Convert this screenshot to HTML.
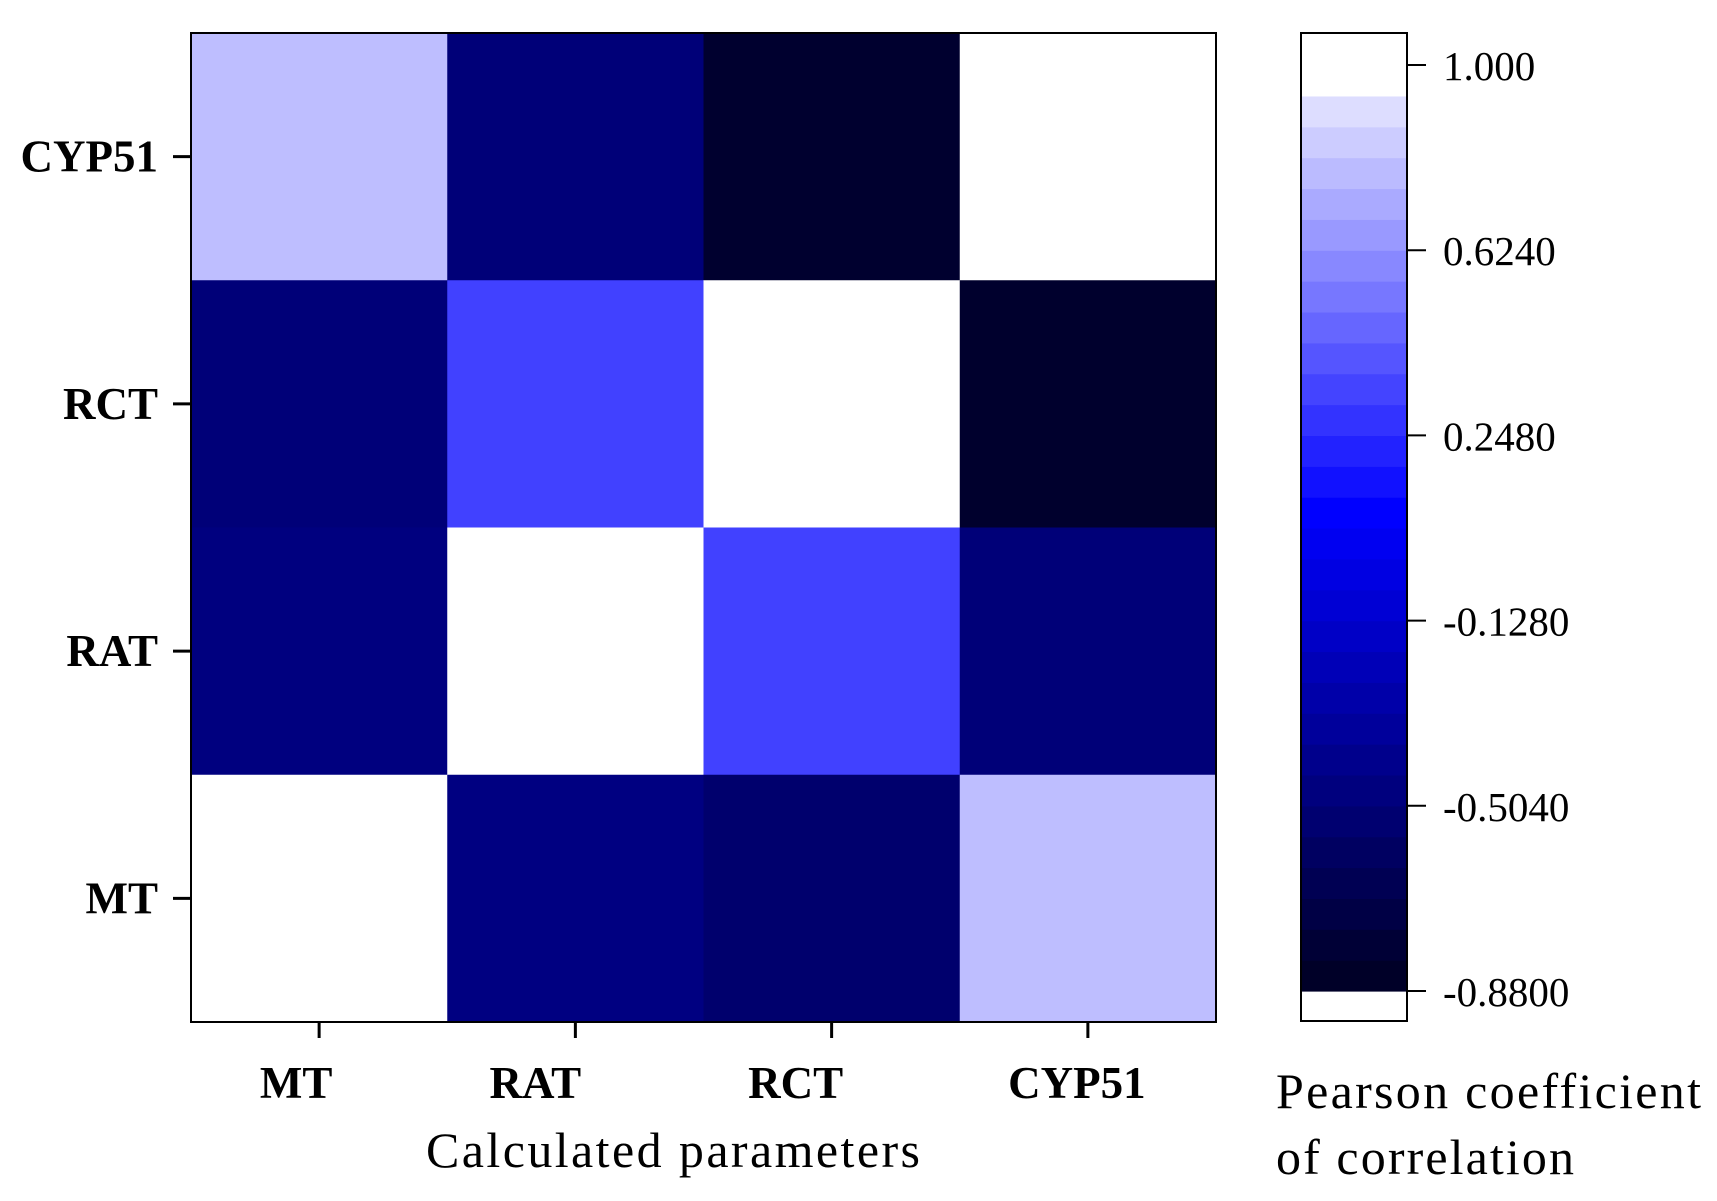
<!DOCTYPE html>
<html><head><meta charset="utf-8"><style>body{margin:0;background:#fff}svg{display:block}text{font-family:"Liberation Serif",serif;fill:#000}</style></head>
<body>
<svg id="c" width="1717" height="1201"></svg>
<script>
const rowLabels=["CYP51","RCT","RAT","MT"];
const colLabels=["MT","RAT","RCT","CYP51"];
const values=[
 [0.76,-0.53,-0.85,1.0],
 [-0.53,0.30,1.0,-0.86],
 [-0.50,1.0,0.30,-0.53],
 [1.0,-0.49,-0.58,0.76]];
const cbTicks=[1.0,0.624,0.248,-0.128,-0.504,-0.88];
const cbTickLabels=["1.000","0.6240","0.2480","-0.1280","-0.5040","-0.8800"];
const vMin=-0.88,vMax=1.0;
const NS="http://www.w3.org/2000/svg",svg=document.getElementById('c');
function mk(t,a,p){const e=document.createElementNS(NS,t);for(const k in a)e.setAttribute(k,a[k]);(p||svg).appendChild(e);return e;}
function color(v){const mid=0.06;let r,g,b;
 if(v<=mid){const t=Math.max(0,(v-vMin)/(mid-vMin));r=0;g=0;b=40+215*t;}
 else{const t=Math.min(1,(v-mid)/(vMax-mid));r=255*t;g=255*t;b=255;}
 return `rgb(${Math.round(r)},${Math.round(g)},${Math.round(b)})`;}
const X0=191,Y0=33,W=1025,H=989,cw=W/4,ch=H/4;
const xs=i=>X0+i*cw, ys=j=>Y0+j*ch;
values.forEach((row,j)=>row.forEach((v,i)=>{
 const r=mk('rect',{x:xs(i),y:ys(j),width:cw+0.5,height:ch+0.5,fill:color(v)});
 
 
}));
let f=mk('rect',{x:X0,y:Y0,width:W,height:H,fill:'none',stroke:'#000','stroke-width':2});

rowLabels.forEach((l,j)=>{const y=ys(j)+ch/2;
 mk('line',{x1:173,x2:191,y1:y,y2:y,stroke:'#000','stroke-width':3});
 const t=mk('text',{x:158,y:y+15,'text-anchor':'end','font-size':45,'font-weight':'bold'});t.textContent=l;
 });
const xOff=[-23,-40,-36,-11];
colLabels.forEach((l,i)=>{const x=xs(i)+cw/2;
 mk('line',{x1:x,x2:x,y1:1022,y2:1038,stroke:'#000','stroke-width':3});
 const t=mk('text',{x:x+xOff[i],y:1098,'text-anchor':'middle','font-size':45,'font-weight':'bold'});t.textContent=l;
 });
let at=mk('text',{x:673,y:1167,'text-anchor':'middle','font-size':50,textLength:494});at.textContent='Calculated parameters';

const CX=1301,CW=106,CT=33,CB=1021,yTop=65,yBot=991;
const cy=v=>yBot-(v-vMin)/(vMax-vMin)*(yBot-yTop);
mk('rect',{x:CX,y:CT,width:CW,height:CB-CT,fill:'#fff'});
const nb=30,step=(vMax-vMin)/nb;
for(let k=0;k<nb;k++){const lo=vMin+k*step,hi=lo+step;
 const b=mk('rect',{x:CX,y:cy(hi),width:CW,height:cy(lo)-cy(hi)+0.6,fill:color(lo+step/2>0.95?1:lo)});
 }
mk('rect',{x:CX,y:CT,width:CW,height:cy(vMax)-CT,fill:'#fff'});
let cf=mk('rect',{x:CX,y:CT,width:CW,height:CB-CT,fill:'none',stroke:'#000','stroke-width':2});

cbTicks.forEach((v,k)=>{const y=cy(v);
 mk('line',{x1:CX+CW,x2:CX+CW+19,y1:y,y2:y,stroke:'#000','stroke-width':2});
 const t=mk('text',{x:1443,y:y+15,'font-size':41});t.textContent=cbTickLabels[k];
 });
let p1=mk('text',{x:1276,y:1108,'font-size':50,textLength:425});p1.textContent='Pearson coefficient';

let p2=mk('text',{x:1276,y:1174,'font-size':50,textLength:298});p2.textContent='of correlation';

</script>
</body></html>
